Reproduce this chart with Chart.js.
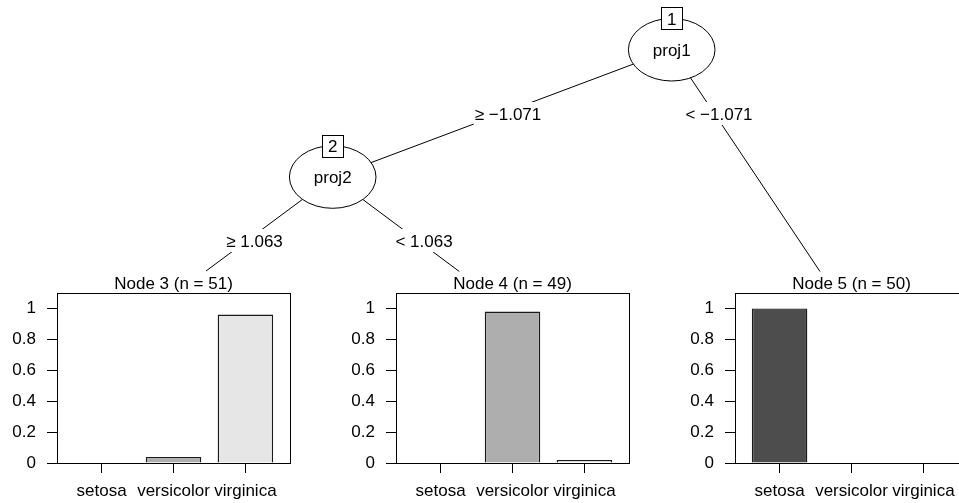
<!DOCTYPE html>
<html>
<head>
<meta charset="utf-8">
<title>Projection tree – iris</title>
<script src="https://cdn.jsdelivr.net/npm/chart.js@4/dist/chart.umd.min.js"></script>
<style>
  html, body { margin: 0; padding: 0; background: #fff; }
  body { width: 959px; height: 503px; overflow: hidden; position: relative; }
  .layer { position: absolute; }
</style>
</head>
<body>
<canvas id="tree" class="layer" width="959" height="503" style="left:0;top:0"></canvas>
<canvas id="node3" class="layer" width="300" height="232" style="left:0;top:271px"></canvas>
<canvas id="node4" class="layer" width="300" height="232" style="left:339px;top:271px"></canvas>
<canvas id="node5" class="layer" width="300" height="232" style="left:678px;top:271px"></canvas>
<script>
// ---- data -------------------------------------------------------------
const classes = ['setosa', 'versicolor', 'virginica'];
const classColors = ['#4D4D4D', '#AEAEAE', '#E6E6E6'];

const terminalIds = [3, 4, 5];
const terminalSizes = [51, 49, 50];
const node3Props = [0, 0.039, 0.961];
const node4Props = [0, 0.980, 0.020];
const node5Props = [1, 0, 0];

const yTicks = [0, 0.2, 0.4, 0.6, 0.8, 1];
const yTickLabels = ['0', '0.2', '0.4', '0.6', '0.8', '1'];

// inner nodes: id, split variable, layout position
const innerIds = [1, 2];
const innerVars = ['proj1', 'proj2'];
const innerX = [671.7, 332.7];
const innerY = [49.7, 177];

// edges: parent index (into inner nodes), end point, label and label position
const edgeParent = [0, 0, 1, 1];
const edgeEndX = [332.7, 820, 206, 459.3];
const edgeEndY = [177, 271.5, 271, 271.5];
const edgeLabels = ['\u2265 \u22121.071', '< \u22121.071', '\u2265 1.063', '< 1.063'];
const edgeLabelX = [508, 719, 254.5, 424];
const edgeLabelY = [113.5, 113.5, 240.5, 240.5];

// ---- shared style -----------------------------------------------------
const FONT_FAMILY = '"Liberation Sans", Arial, Helvetica, sans-serif';
const FONT_SIZE = 17;
const fontSpec = FONT_SIZE + 'px ' + FONT_FAMILY;
const CAP_HALF = 0.358 * FONT_SIZE;   // baseline offset to put digit centres on a point

Chart.defaults.font.family = FONT_FAMILY;
Chart.defaults.font.size = FONT_SIZE;
Chart.defaults.color = '#000';

// ---- tree skeleton ----------------------------------------------------
const treeDecor = {
  id: 'treeDecor',
  afterDatasetsDraw(chart) {
    const ctx = chart.ctx;
    const xs = chart.scales.x, ys = chart.scales.y;
    ctx.save();
    ctx.font = fontSpec;
    ctx.lineWidth = 1;
    ctx.strokeStyle = '#000';
    ctx.fillStyle = '#000';

    // edge labels on white boxes that break the lines
    edgeLabels.forEach((txt, i) => {
      const cx = xs.getPixelForValue(edgeLabelX[i]);
      const cy = ys.getPixelForValue(edgeLabelY[i]);
      const w = ctx.measureText(txt).width + 2;
      const h = 23;
      ctx.fillStyle = '#fff';
      ctx.fillRect(cx - w / 2, cy - h / 2, w, h);
      ctx.fillStyle = '#000';
      ctx.textAlign = 'center';
      ctx.textBaseline = 'alphabetic';
      ctx.fillText(txt, cx, cy + CAP_HALF);
    });

    // inner nodes: ellipse, variable name, id box
    const rx = 43.3, ry = 31.3;
    innerIds.forEach((id, i) => {
      const cx = xs.getPixelForValue(innerX[i]);
      const cy = ys.getPixelForValue(innerY[i]);
      ctx.beginPath();
      ctx.ellipse(cx, cy, rx, ry, 0, 0, Math.PI * 2);
      ctx.fillStyle = '#fff';
      ctx.fill();
      ctx.stroke();
      ctx.fillStyle = '#000';
      ctx.textAlign = 'center';
      ctx.textBaseline = 'alphabetic';
      ctx.fillText(innerVars[i], cx, cy + 6.1);

      const bw = 21, bh = 22;
      const by = cy - ry;
      const bx0 = Math.round(cx - bw / 2) + 0.5;
      const by0 = Math.round(by - bh / 2) + 0.5;
      ctx.fillStyle = '#fff';
      ctx.fillRect(bx0, by0, bw, bh);
      ctx.strokeRect(bx0, by0, bw, bh);
      ctx.fillStyle = '#000';
      ctx.fillText(String(id), cx, by + 0.5 + CAP_HALF);
    });
    ctx.restore();
  }
};

new Chart(document.getElementById('tree'), {
  type: 'scatter',
  data: {
    datasets: edgeParent.map((p, i) => ({
      data: [
        { x: innerX[p], y: innerY[p] },
        { x: edgeEndX[i], y: edgeEndY[i] }
      ],
      showLine: true,
      borderColor: '#000',
      borderWidth: 1,
      pointRadius: 0,
      fill: false
    }))
  },
  options: {
    responsive: false,
    animation: false,
    devicePixelRatio: 1,
    layout: { padding: 0 },
    plugins: { legend: { display: false }, tooltip: { enabled: false } },
    scales: {
      x: { type: 'linear', min: 0, max: 959, display: false },
      y: { type: 'linear', min: 0, max: 503, reverse: true, display: false }
    }
  },
  plugins: [treeDecor]
});

// ---- terminal node bar panels -----------------------------------------
const panelFrame = {
  id: 'panelFrame',
  afterDraw(chart, args, opts) {
    const a = chart.chartArea;
    const ctx = chart.ctx;
    ctx.save();
    ctx.strokeStyle = '#000';
    ctx.lineWidth = 1;
    const l = Math.round(a.left) + 0.5, t = Math.round(a.top) + 0.5;
    const r = Math.round(a.right) + 0.5, b = Math.round(a.bottom) + 0.5;
    ctx.strokeRect(l, t, r - l, b - t);
    ctx.font = fontSpec;
    ctx.fillStyle = '#000';
    ctx.textAlign = 'center';
    ctx.textBaseline = 'alphabetic';
    ctx.fillText(opts.title, (a.left + a.right) / 2, a.top - 4);
    ctx.restore();
  }
};

function drawPanel(canvasId, props, id, n) {
  new Chart(document.getElementById(canvasId), {
    type: 'bar',
    data: {
      datasets: [{
        data: props.map((v, i) => ({ x: i, y: v })),
        backgroundColor: classColors,
        borderColor: '#1a1a1a',
        borderWidth: 1.4,
        borderSkipped: 'start',
        categoryPercentage: 1,
        barPercentage: 0.772
      }]
    },
    options: {
      responsive: false,
      animation: false,
      devicePixelRatio: 1,
      layout: { padding: { top: 22, right: 10, left: 0, bottom: 0 } },
      plugins: {
        legend: { display: false },
        tooltip: { enabled: false },
        panelFrame: { title: 'Node ' + id + ' (n = ' + n + ')' }
      },
      scales: {
        x: {
          type: 'linear',
          min: -0.62,
          max: 2.62,
          offset: false,
          afterBuildTicks: s => { s.ticks = classes.map((_, i) => ({ value: i })); },
          afterFit: s => { s.height = 40; },
          ticks: {
            callback: v => classes[v],
            autoSkip: false,
            maxRotation: 0,
            padding: 8,
            color: '#000'
          },
          grid: { offset: false, drawOnChartArea: false, drawTicks: true, tickLength: 10, color: '#000', lineWidth: 1 },
          border: { display: true, color: '#000', width: 1 }
        },
        y: {
          type: 'linear',
          min: 0,
          max: 1.1,
          afterBuildTicks: s => { s.ticks = yTicks.map(v => ({ value: v })); },
          afterFit: s => { s.width = 57; },
          ticks: {
            callback: (v, i) => yTickLabels[i],
            padding: 11,
            color: '#000'
          },
          grid: { drawOnChartArea: false, drawTicks: true, tickLength: 10, color: '#000', lineWidth: 1 },
          border: { display: true, color: '#000', width: 1 }
        }
      }
    },
    plugins: [panelFrame]
  });
}

drawPanel('node3', node3Props, terminalIds[0], terminalSizes[0]);
drawPanel('node4', node4Props, terminalIds[1], terminalSizes[1]);
drawPanel('node5', node5Props, terminalIds[2], terminalSizes[2]);
</script>
</body>
</html>
